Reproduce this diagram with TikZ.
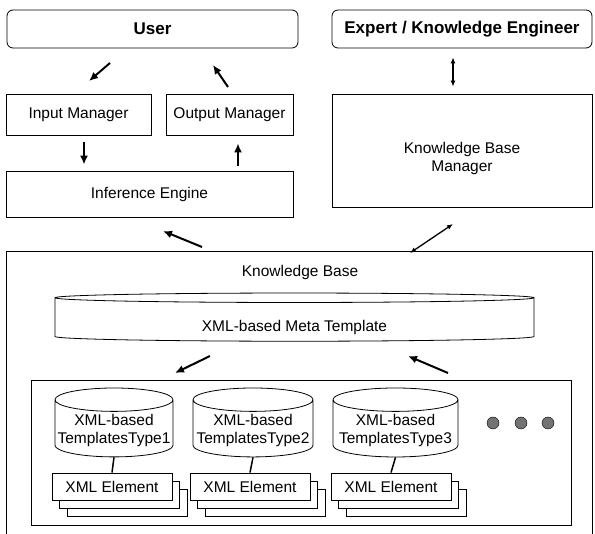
\documentclass[tikz,border=0pt]{standalone}
\usepackage{fontspec}
\setmainfont{Liberation Sans}
\usepackage{tikz}
\usetikzlibrary{shapes.geometric,arrows.meta,shadows}
\tikzset{box/.style={draw=black,line width=0.8pt,inner sep=2pt,font=\fontsize{15.5}{18}\selectfont},
	actor/.style={box,rounded corners=6pt,font=\fontsize{17}{20}\selectfont\bfseries},
	store/.style={box,cylinder,shape border rotate=90,aspect=0.2,align=center},
	element/.style={box,fill=white,minimum width=120pt,minimum height=27pt,
		copy shadow={shadow xshift=15pt,shadow yshift=-16pt},
		copy shadow={shadow xshift=7.5pt,shadow yshift=-8pt}},
	moredot/.style={circle,draw=black,fill=black!55,minimum size=12pt,inner sep=0pt},
	flow/.style={-{Latex[length=9pt,width=8pt]},line width=2pt},
	twoway/.style={{Latex[length=6pt,width=5pt]}-{Latex[length=6pt,width=5pt]},line width=1.3pt}}

\begin{document}
\begin{tikzpicture}[x=1pt,y=-1pt]
			\useasboundingbox (0,0) rectangle (595,534);
			\node[actor,minimum width=291pt,minimum height=38pt] (user) at (152.5,29) {User};
			\node[actor,minimum width=260pt,minimum height=38pt] (expert) at (462,29) {Expert / Knowledge Engineer};
			\node[box,minimum width=145pt,minimum height=41pt] (input) at (78.5,114.5) {Input Manager};
			\node[box,minimum width=127pt,minimum height=41pt] (output) at (229.5,114.5) {Output Manager};
			\node[box,minimum width=287pt,minimum height=46pt] (engine) at (149.5,194) {Inference Engine};
			\node[box,minimum width=260pt,minimum height=113pt,align=center,text height=45pt] (kbm) at (462,150.5) {Knowledge Base\\Manager};
		
			\node[minimum width=585pt,minimum height=282pt] (kb) at (299.5,393) {};
			\draw[line width=0.8pt] (kb.south west) |- (kb.north east) -- (kb.south east);
			\node[box,draw=none] (kbtitle) at (300,272) {Knowledge Base};
			\node[store,aspect=0.05,minimum width=479pt,minimum height=45pt,text height=27pt] (meta) at (294.5,320) {XML-based Meta Template};
			\node[box,minimum width=540pt,minimum height=145pt] (inner) at (301,452.5) {};
		
			\node[store,minimum width=118pt,minimum height=56pt] (tpl1) at (114,430) {XML-based\\TemplatesType1};
			\node[store,minimum width=120pt,minimum height=56pt] (tpl2) at (253,430) {XML-based\\TemplatesType2};
			\node[store,minimum width=125pt,minimum height=56pt] (tpl3) at (395.5,430) {XML-based\\TemplatesType3};
			\node[element] (elem1) at (112,486.5) {XML Element};
			\node[element] (elem2) at (250,486.5) {XML Element};
			\node[element] (elem3) at (391,486.5) {XML Element};
			\node[moredot] (dot1) at (493,423) {};
			\node[moredot] (dot2) at (521,423) {};
			\node[moredot] (dot3) at (548,423) {};
		
			\coordinate (userout) at (110,63);
			\coordinate (inputin) at (89,81);
			\coordinate (outputout) at (228,87);
			\coordinate (userin) at (213,65);
			\coordinate (kbout) at (202,247);
			\coordinate (enginein) at (163,231);
			\coordinate (kbmend) at (453,224);
			\coordinate (kbend) at (410,253);
			\coordinate (metaout) at (210,356);
			\coordinate (innerin) at (175,373);
			\coordinate (innerout) at (448,373);
			\coordinate (metain) at (408,356);
		
			\path [flow](userout) edge (inputin);
			\path [flow](outputout) edge (userin);
			\path [flow]([xshift=5.5pt]input.south) edge[shorten <=7pt,shorten >=6pt] ([xshift=5.5pt]input.south |- engine.north);
			\path [flow]([xshift=8.5pt]output.south |- engine.north) edge[shorten <=5pt,shorten >=8pt] ([xshift=8.5pt]output.south);
			\path [flow](kbout) edge (enginein);
			\path [twoway]([xshift=-9pt]expert.south) edge[shorten <=9pt,shorten >=7pt] ([xshift=-9pt]kbm.north);
			\path [twoway](kbmend) edge (kbend);
			\path [flow](metaout) edge (innerin);
			\path [flow](innerout) edge (metain);
			\draw[line width=1.5pt] (tpl1.south) -- (elem1.north);
			\draw[line width=1.5pt] (tpl2.south) -- (elem2.north);
			\draw[line width=1.5pt] (tpl3.south) -- (elem3.north);
\end{tikzpicture}
\end{document}
